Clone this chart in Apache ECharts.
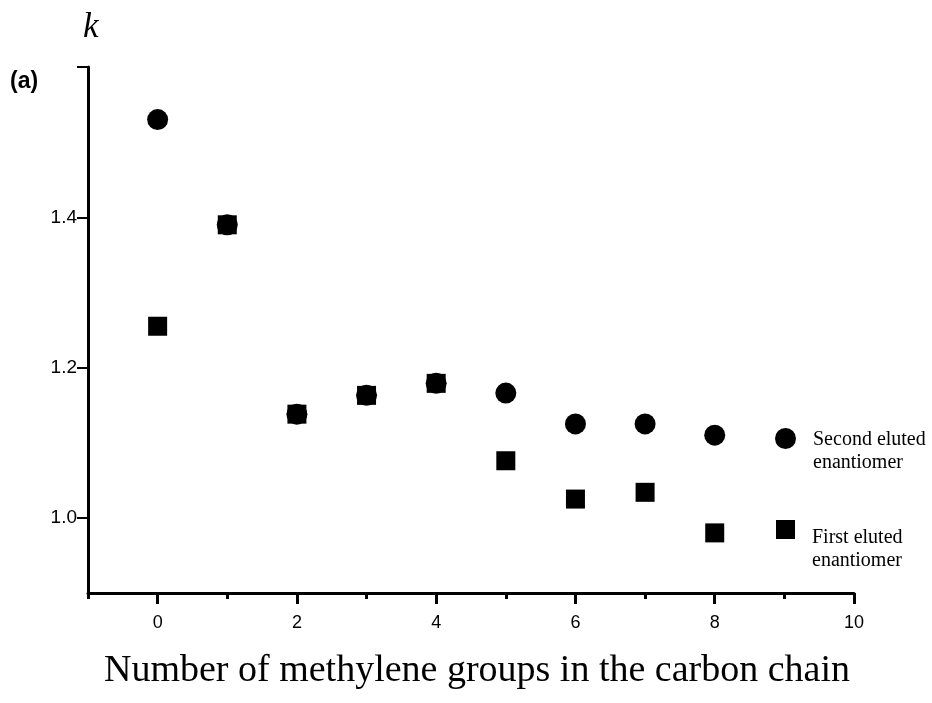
<!DOCTYPE html>
<html>
<head>
<meta charset="utf-8">
<script src="https://cdn.jsdelivr.net/npm/echarts@6/dist/echarts.min.js"></script>
<style>
  html, body { margin: 0; padding: 0; background: #fff; }
  #main { width: 932px; height: 703px; }
</style>
</head>
<body>
<div id="main"></div>
<script>
// methylene groups (x)
const methylene = [0, 1, 2, 3, 4, 5, 6, 7, 8]
// k values
const secondEluted = [1.530, 1.390, 1.138, 1.163, 1.179, 1.166, 1.125, 1.125, 1.110]
const firstEluted = [1.255, 1.390, 1.138, 1.163, 1.179, 1.076, 1.025, 1.034, 0.980]
// ticks
const xMajorTicks = [0, 2, 4, 6, 8, 10]
const xMinorTicks = [-1, 1, 3, 5, 7, 9]
const yTicks = [1.0, 1.2, 1.4, 1.6]
const yLabels = [1.0, 1.2, 1.4]

const sans = 'Liberation Sans, Arial, sans-serif'
const serif = 'Liberation Serif, Times New Roman, serif'

const chart = echarts.init(document.getElementById('main'))

// legend text style, spacer line pushes the label below the marker
function legendText (spacer) {
  return {
    fontFamily: serif,
    fontSize: 20,
    lineHeight: 23,
    color: '#000',
    padding: [0, 0, 0, 12],
    rich: {
      s: { fontSize: 2, lineHeight: spacer },
      t: { fontFamily: serif, fontSize: 20, lineHeight: 23, color: '#000' }
    }
  }
}

const option = {
  animation: false,
  backgroundColor: '#fff',
  grid: { left: 88, right: 78, top: 67, bottom: 110 },
  xAxis: [
    {
      type: 'value',
      min: -1,
      max: 10,
      axisLine: { show: true, onZero: false, lineStyle: { color: '#000', width: 3 } },
      axisTick: { show: true, length: 11, customValues: xMajorTicks, lineStyle: { color: '#000', width: 3 } },
      axisLabel: { customValues: xMajorTicks, margin: 21, color: '#000', fontFamily: sans, fontSize: 18 },
      splitLine: { show: false }
    },
    {
      // minor ticks at odd values
      type: 'value',
      position: 'bottom',
      min: -1,
      max: 10,
      axisLine: { show: false },
      axisTick: { show: true, length: 6, customValues: xMinorTicks, lineStyle: { color: '#000', width: 3 } },
      axisLabel: { show: false },
      splitLine: { show: false }
    }
  ],
  yAxis: {
    type: 'value',
    min: 0.9,
    max: 1.6,
    axisLine: { show: true, onZero: false, lineStyle: { color: '#000', width: 3 } },
    axisTick: { show: true, length: 11, customValues: yTicks, lineStyle: { color: '#000', width: 2 } },
    axisLabel: {
      customValues: yLabels,
      margin: 11,
      color: '#000',
      fontFamily: sans,
      fontSize: 19,
      formatter: v => v.toFixed(1)
    },
    splitLine: { show: false }
  },
  legend: [
    {
      data: ['Second eluted enantiomer'],
      left: 775,
      top: 403,
      padding: 0,
      itemWidth: 21,
      itemHeight: 21,
      icon: 'circle',
      formatter: () => '{s| }\n{t|Second eluted}\n{t|enantiomer}',
      textStyle: legendText(25)
    },
    {
      data: ['First eluted enantiomer'],
      left: 776,
      top: 487,
      padding: 0,
      itemWidth: 19,
      itemHeight: 19,
      icon: 'rect',
      formatter: () => '{s| }\n{t|First eluted}\n{t|enantiomer}',
      textStyle: legendText(39)
    }
  ],
  graphic: [
    {
      type: 'text',
      left: 83,
      top: 10,
      style: { text: 'k', fontFamily: serif, fontStyle: 'italic', fontSize: 35, fill: '#000' }
    },
    {
      type: 'text',
      left: 10,
      top: 70,
      style: { text: '(a)', fontFamily: sans, fontWeight: 'bold', fontSize: 23, fill: '#000' }
    },
    {
      type: 'text',
      x: 477,
      y: 671,
      style: {
        text: 'Number of methylene groups in the carbon chain',
        fontFamily: serif,
        fontSize: 38,
        fill: '#000',
        align: 'center',
        verticalAlign: 'middle'
      }
    }
  ],
  series: [
    {
      name: 'Second eluted enantiomer',
      type: 'scatter',
      symbol: 'circle',
      symbolSize: 21,
      itemStyle: { color: '#000', opacity: 1 },
      data: methylene.map((x, i) => [x, secondEluted[i]])
    },
    {
      name: 'First eluted enantiomer',
      type: 'scatter',
      symbol: 'rect',
      symbolSize: 19,
      itemStyle: { color: '#000', opacity: 1 },
      data: methylene.map((x, i) => [x, firstEluted[i]])
    }
  ]
}

chart.setOption(option)
</script>
</body>
</html>
